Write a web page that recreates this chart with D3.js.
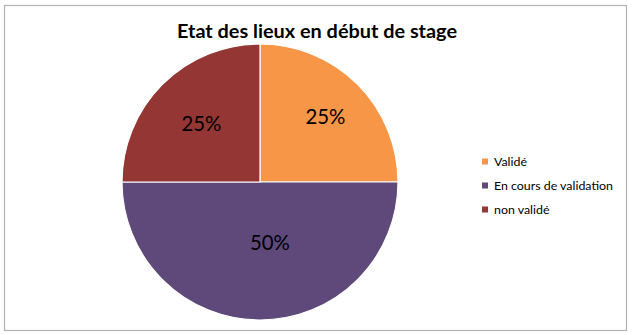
<!DOCTYPE html>
<html><head><meta charset="utf-8">
<script src="https://cdn.jsdelivr.net/npm/d3@7"></script>
<style>html,body{margin:0;padding:0;background:#fff;}svg{display:block;}</style>
</head><body>
<svg id="chart" width="632" height="335"></svg>
<script>
const categories = ["Validé", "En cours de validation", "non validé"];
const values = [25, 50, 25];
const colors = ["#F79646", "#5F497A", "#943634"];
const labelRadius = [0.67, 0.45, 0.6];
const labelAngleShift = [0, -0.16, 0];
const title = "Etat des lieux en début de stage";

const svg = d3.select("#chart");
const FONT = "Lato, 'Open Sans', sans-serif";

svg.append("rect").attr("x", 4.5).attr("y", 5.5).attr("width", 622).attr("height", 325)
  .attr("fill", "#fff").attr("stroke", "#b3b3b3").attr("stroke-width", 1.2);

function fit(sel, target) {
  const w = sel.node().getComputedTextLength();
  const fs = parseFloat(sel.attr("font-size"));
  sel.attr("font-size", fs * target / w);
}

const t = svg.append("text").attr("x", 317).attr("y", 38).attr("text-anchor", "middle")
  .attr("font-family", FONT).attr("font-weight", "bold").attr("font-size", 18)
  .attr("fill", "#000").text(title);
fit(t, 280);

const cx = 260, cy = 182, R = 138;
const total = d3.sum(values);
const pie = d3.pie().sort(null).value(d => d)(values);
const arc = d3.arc().innerRadius(0).outerRadius(R);
const g = svg.append("g").attr("transform", `translate(${cx},${cy})`);
g.selectAll("path").data(pie).join("path")
  .attr("d", arc).attr("fill", (d, i) => colors[i])
  .attr("stroke", "#fff").attr("stroke-width", 1.2);

g.selectAll("text.lbl").data(pie).join("text").attr("class", "lbl")
  .attr("transform", (d, i) => {
    const r = R * labelRadius[i];
    const a = (d.startAngle + d.endAngle) / 2 + labelAngleShift[i];
    return `translate(${r * Math.sin(a)},${-r * Math.cos(a)})`;
  })
  .attr("text-anchor", "middle").attr("dy", "0.35em")
  .attr("font-family", FONT).attr("font-size", 22).attr("fill", "#000")
  .text(d => Math.round(d.value / total * 100) + "%")
  .each(function(){ fit(d3.select(this), 40); });

const y = d3.scaleBand().domain(categories).range([150, 222]);
const leg = svg.append("g");
const rows = leg.selectAll("g").data(categories).join("g")
  .attr("transform", d => `translate(482, ${y(d) + y.bandwidth()/2})`);
rows.append("rect").attr("x", 0).attr("y", -3.5).attr("width", 6).attr("height", 6)
  .attr("fill", (d, i) => colors[i]);
rows.append("text").attr("x", 12).attr("dy", "0.35em")
  .attr("font-family", FONT).attr("font-size", 11).attr("fill", "#000").text(d => d);
const lt = rows.filter((d,i)=>i===1).select("text");
const scale = 119 / lt.node().getComputedTextLength();
rows.select("text").attr("font-size", 11 * scale);
</script>
</body></html>
